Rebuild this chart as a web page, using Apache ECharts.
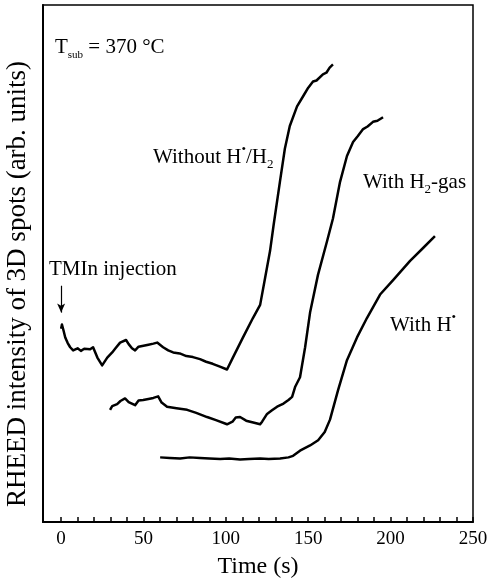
<!DOCTYPE html>
<html>
<head>
<meta charset="utf-8">
<script src="https://cdn.jsdelivr.net/npm/echarts@6/dist/echarts.min.js"></script>
<style>
  html, body { margin: 0; padding: 0; background: #fff; }
  #chart { width: 491px; height: 584px; }
</style>
</head>
<body>
<div id="chart"></div>
<script>
// RHEED intensity of 3D spots vs time, three growth conditions (t in s, intensity in arb. units 0..100)
const withoutHH2 = [
  [0, 37.4], [0.5, 38.2], [1.5, 37.0], [2.5, 35.7], [4, 34.6], [5.5, 33.8], [7.3, 33.2],
  [10, 33.6], [12, 33.1], [14, 33.5], [17.6, 33.4], [19.4, 33.8], [22, 31.8], [24.9, 30.3],
  [28, 31.8], [31, 32.8], [33, 33.6], [35.8, 34.7], [37, 34.5], [39.4, 35.2], [41, 34.4],
  [43, 33.6], [44.9, 33.2], [47, 33.9], [50, 34.1], [53, 34.3], [56, 34.5], [58.3, 34.7],
  [61.9, 33.8], [65, 33.2], [68, 32.8], [72, 32.6], [76, 32.1], [80, 31.9], [84.3, 31.5],
  [88, 31.0], [92, 30.6], [96, 30.1], [100.7, 29.5], [101.3, 29.8], [104.4, 31.9],
  [110.4, 35.7], [116.5, 39.5], [120.8, 42.0], [123.8, 47.2], [126.8, 52.4], [129, 57.5],
  [132.8, 65.8], [135.8, 72.2], [138.8, 76.6], [143.2, 80.4], [146.8, 82.3], [150, 84.0],
  [152.9, 85.2], [155, 85.4], [158.9, 86.6], [161, 86.9], [163, 87.9], [165, 88.5]
]
const withH2gas = [
  [29.7, 21.7], [31, 22.4], [34, 22.8], [36, 23.4], [38.8, 23.9], [41, 23.2], [44.9, 22.6],
  [47, 23.5], [49.8, 23.6], [53, 23.8], [56, 24.0], [58.9, 24.3], [61, 23.1], [64.3, 22.3],
  [70, 22.0], [76.5, 21.7], [82, 21.1], [88.6, 20.3], [94, 19.7], [100.7, 18.9], [104, 19.4],
  [106, 20.2], [108.6, 20.3], [112.3, 19.6], [116, 19.3], [120.8, 18.9], [122, 19.4],
  [125, 20.9], [128, 21.6], [131.1, 22.3], [135, 22.9], [138, 23.6], [140.2, 24.2],
  [142, 26.1], [145, 28.0], [148.1, 33.8], [151.1, 40.5], [155.9, 47.8], [161.4, 54.3],
  [165, 58.7], [169.3, 65.8], [173.5, 70.8], [177.2, 73.5], [180, 74.6], [183.3, 76.0],
  [186, 76.5], [189.3, 77.4], [192, 77.6], [195.4, 78.3]
]
const withHrad = [
  [60.1, 12.5], [66, 12.4], [72.2, 12.3], [78, 12.5], [84.3, 12.4], [90, 12.3], [96.5, 12.2],
  [102, 12.3], [108.6, 12.1], [114, 12.2], [120.8, 12.3], [126, 12.2], [132.9, 12.3],
  [138, 12.5], [140.8, 12.8], [145, 13.8], [151.1, 14.8], [156, 15.8], [160, 17.4],
  [163.2, 19.8], [168.1, 25.5], [173.5, 31.3], [179.6, 35.7], [185.7, 39.5], [193.6, 44.0],
  [201.5, 46.8], [211.8, 50.5], [219.7, 53.0], [226.9, 55.3]
]
const tickValues = [0, 10, 20, 30, 40, 50, 60, 70, 80, 90, 100, 110, 120, 130, 140, 150, 160, 170, 180, 190, 200, 210, 220, 230, 240, 250]
const labelValues = [0, 50, 100, 150, 200, 250]
// TMIn injection arrow, start and end intensity at t = 0
const arrowFrom = [0, 45.7]
const arrowTo = [0, 40.5]

const FONT = 'Liberation Serif'
const chart = echarts.init(document.getElementById('chart'))

function makeLine(name, data, extra) {
  return Object.assign({
    name: name,
    type: 'line',
    data: data,
    showSymbol: false,
    symbol: 'none',
    silent: true,
    lineStyle: { color: '#000', width: 2.5, join: 'round' }
  }, extra || {})
}

const rich = {
  a: { fontFamily: FONT, fontSize: 21, color: '#000', lineHeight: 28, verticalAlign: 'middle' },
  sub: { fontFamily: FONT, fontSize: 11, color: '#000', lineHeight: 28, verticalAlign: 'bottom' },
  sub2: { fontFamily: FONT, fontSize: 13, color: '#000', lineHeight: 28, verticalAlign: 'bottom' },
  sup: { fontFamily: FONT, fontSize: 13, color: '#000', lineHeight: 28, verticalAlign: 'top' }
}

function note(x, y, text) {
  return {
    type: 'text',
    x: x,
    y: y,
    silent: true,
    style: { text: text, rich: rich, verticalAlign: 'middle', align: 'left', fill: '#000' }
  }
}

chart.setOption({
  animation: false,
  backgroundColor: '#fff',
  grid: {
    left: 43,
    right: 18,
    top: 5,
    bottom: 58,
    show: true,
    borderColor: '#000',
    borderWidth: 1.5,
    backgroundColor: 'transparent'
  },
  xAxis: {
    type: 'value',
    min: -11,
    max: 250,
    name: 'Time (s)',
    nameLocation: 'middle',
    nameGap: 33,
    nameTextStyle: { fontFamily: FONT, fontSize: 24, color: '#000' },
    axisLine: { lineStyle: { color: '#000', width: 2 } },
    axisTick: {
      inside: true,
      length: 5,
      customValues: tickValues,
      lineStyle: { color: '#000', width: 1.5 }
    },
    axisLabel: {
      customValues: labelValues,
      fontFamily: FONT,
      fontSize: 19,
      color: '#000',
      margin: 8
    },
    splitLine: { show: false }
  },
  yAxis: {
    type: 'value',
    min: 0,
    max: 100,
    axisLine: { show: true, onZero: false, lineStyle: { color: '#000', width: 2 } },
    axisTick: { show: false },
    axisLabel: { show: false },
    splitLine: { show: false }
  },
  series: [
    makeLine('Without H*/H2', withoutHH2, {
      markLine: {
        silent: true,
        symbol: ['none', 'arrow'],
        symbolSize: [6, 9],
        label: { show: false },
        lineStyle: { color: '#000', width: 1.2, type: 'solid' },
        data: [[{ coord: arrowFrom }, { coord: arrowTo }]]
      }
    }),
    makeLine('With H2-gas', withH2gas),
    makeLine('With H*', withHrad)
  ],
  graphic: [
    note(55, 47, '{a|T}{sub|sub}{a| = 370 °C}'),
    note(153, 157, '{a|Without H}{sup|•}{a|/H}{sub2|2}'),
    note(363, 182, '{a|With H}{sub2|2}{a|-gas}'),
    note(390, 325, '{a|With H}{sup|•}'),
    note(49, 269, '{a|TMIn injection}'),
    {
      type: 'text',
      x: 18,
      y: 284,
      rotation: Math.PI / 2,
      silent: true,
      style: {
        text: 'RHEED intensity of 3D spots (arb. units)',
        fontFamily: FONT,
        fontSize: 27,
        fill: '#000',
        align: 'center',
        verticalAlign: 'middle'
      }
    }
  ]
})
</script>
</body>
</html>
